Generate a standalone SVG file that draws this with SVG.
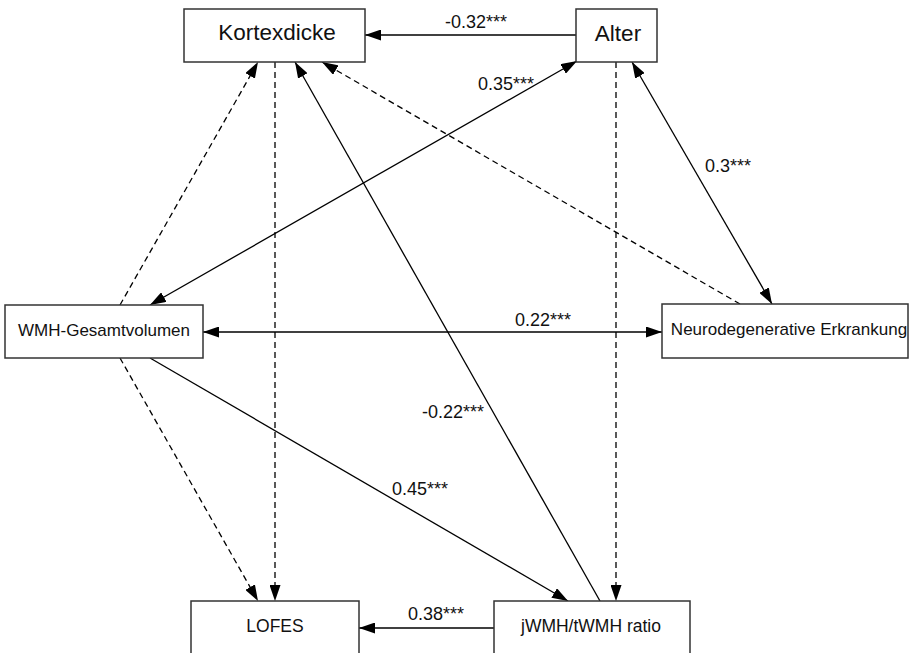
<svg xmlns="http://www.w3.org/2000/svg" width="913" height="653" viewBox="0 0 913 653">
  <defs>
    <marker id="arrow" viewBox="0 0 16 11" refX="16" refY="5.5" markerWidth="16" markerHeight="11" markerUnits="userSpaceOnUse" orient="auto-start-reverse">
      <path d="M0,0 L16,5.5 L0,11 z" fill="#000"/>
    </marker>
    <style>
      .box { fill: #fff; stroke: #333; stroke-width: 1.5; }
      .lbl { font-family: "Liberation Sans", Arial, sans-serif; font-size: 17px; fill: #111; text-anchor: middle; }
      .big { font-size: 22.5px; }
      .coef { font-family: "Liberation Sans", Arial, sans-serif; font-size: 18px; fill: #111; }
      .edge { stroke: #000; stroke-width: 1.3; fill: none; }
      .dash { stroke-dasharray: 6 4; }
    </style>
  </defs>
  <rect width="913" height="653" fill="#fff"/>

  <g id="connectors">
    <line class="edge" x1="576" y1="35" x2="365" y2="35" marker-end="url(#arrow)"/>
    <line class="edge" x1="150" y1="305" x2="577" y2="61" marker-start="url(#arrow)" marker-end="url(#arrow)"/>
    <line class="edge" x1="632" y1="62" x2="772" y2="304" marker-start="url(#arrow)" marker-end="url(#arrow)"/>
    <line class="edge dash" x1="740" y1="304" x2="322" y2="62" marker-end="url(#arrow)"/>
    <line class="edge" x1="203" y1="332" x2="662" y2="332" marker-start="url(#arrow)" marker-end="url(#arrow)"/>
    <line class="edge dash" x1="120" y1="305" x2="258" y2="62" marker-end="url(#arrow)"/>
    <line class="edge dash" x1="275" y1="62" x2="275" y2="601" marker-end="url(#arrow)"/>
    <line class="edge" x1="600" y1="601" x2="295" y2="62" marker-end="url(#arrow)"/>
    <line class="edge dash" x1="120" y1="358" x2="258" y2="601" marker-end="url(#arrow)"/>
    <line class="edge" x1="150" y1="358" x2="568" y2="601" marker-end="url(#arrow)"/>
    <line class="edge dash" x1="616" y1="62" x2="616" y2="601" marker-end="url(#arrow)"/>
    <line class="edge" x1="494" y1="628" x2="359" y2="628" marker-end="url(#arrow)"/>

    <text class="coef" x="445" y="28">-0.32***</text>
    <text class="coef" x="478" y="90">0.35***</text>
    <text class="coef" x="705" y="172">0.3***</text>
    <text class="coef" x="515" y="326">0.22***</text>
    <text class="coef" x="422" y="418">-0.22***</text>
    <text class="coef" x="392" y="495">0.45***</text>
    <text class="coef" x="408" y="620">0.38***</text>
  </g>

  <g id="kortexdicke">
    <rect class="box" x="184" y="9" width="181" height="53"/>
    <text class="lbl big" x="277" y="40">Kortexdicke</text>
  </g>
  <g id="alter">
    <rect class="box" x="576" y="9" width="81" height="53"/>
    <text class="lbl big" x="618" y="41">Alter</text>
  </g>
  <g id="wmh-gesamtvolumen">
    <rect class="box" x="5" y="305" width="198" height="53"/>
    <text class="lbl" x="104" y="336">WMH-Gesamtvolumen</text>
  </g>
  <g id="neurodegenerative-erkrankung">
    <rect class="box" x="662" y="304" width="246" height="54"/>
    <text class="lbl" x="789" y="335">Neurodegenerative Erkrankung</text>
  </g>
  <g id="lofes">
    <rect class="box" x="191" y="601" width="168" height="60"/>
    <text class="lbl" x="275" y="632" style="font-size:17.5px">LOFES</text>
  </g>
  <g id="jwmh-twmh-ratio">
    <rect class="box" x="494" y="601" width="196" height="60"/>
    <text class="lbl" x="591" y="632" style="font-size:17.5px">jWMH/tWMH ratio</text>
  </g>
</svg>
